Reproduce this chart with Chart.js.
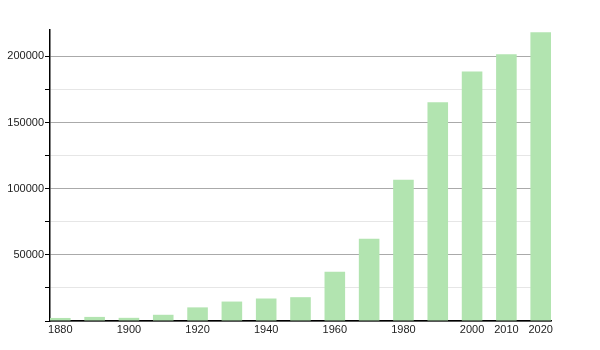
<!DOCTYPE html>
<html>
<head>
<meta charset="utf-8">
<script src="https://cdn.jsdelivr.net/npm/chart.js@4/dist/chart.umd.min.js"></script>
<style>
html,body{margin:0;padding:0;background:#fff;}
#wrap{width:600px;height:350px;}
</style>
</head>
<body>
<div id="wrap"><canvas id="c" width="600" height="350"></canvas></div>
<script>
const years = [1880,1890,1900,1910,1920,1930,1940,1950,1960,1970,1980,1990,2000,2010,2020];
const population = [2300,3100,2400,4700,10300,14700,17000,18000,37300,62200,106800,165300,188600,201700,218300];
const xTickYears = [1880,1900,1920,1940,1960,1980,2000,2010,2020];
const yTickValues = [0,25000,50000,75000,100000,125000,150000,175000,200000];
const yMax = 220000;
const yLabelStep = 50000;

const data = years.map((y,i)=>({x:y, y:population[i]}));

new Chart(document.getElementById('c'), {
  type: 'bar',
  data: {
    datasets: [{
      data: data,
      backgroundColor: 'rgb(178,228,176)',
      borderWidth: 0,
      categoryPercentage: 1.0,
      barPercentage: 0.6
    }]
  },
  options: {
    responsive: false,
    animation: false,
    devicePixelRatio: 1,
    layout: { padding: { left: 0, right: 49, top: 30, bottom: 0 } },
    plugins: { legend: { display: false }, tooltip: { enabled: false } },
    scales: {
      x: {
        type: 'linear',
        offset: false,
        min: 1877,
        max: 2023,
        afterBuildTicks: (scale) => { scale.ticks = xTickYears.map(v => ({value: v})); },
        afterFit: (scale) => { scale.height = 29; },
        grid: { display: false, drawTicks: false, offset: false },
        border: { display: true, color: '#000', width: 1.5 },
        ticks: {
          padding: 2,
          color: '#222',
          font: { family: 'Liberation Sans, Arial, sans-serif', size: 11 },
          callback: (v) => String(v),
          maxRotation: 0,
          autoSkip: false
        }
      },
      y: {
        min: 0,
        max: yMax,
        afterBuildTicks: (scale) => { scale.ticks = yTickValues.map(v => ({value: v})); },
        afterFit: (scale) => { scale.width = 50; },
        grid: {
          color: (ctx) => (ctx.tick && ctx.tick.value % yLabelStep === 0) ? '#aaaaaa' : '#e6e6e6',
          tickColor: '#000',
          tickLength: 5,
          drawTicks: true
        },
        border: { display: true, color: '#000', width: 1.5 },
        ticks: {
          padding: 1,
          color: '#222',
          autoSkip: false,
          font: { family: 'Liberation Sans, Arial, sans-serif', size: 11 },
          callback: (v) => (v !== 0 && v % yLabelStep === 0) ? String(v) : ''
        }
      }
    }
  }
});
</script>
</body>
</html>
